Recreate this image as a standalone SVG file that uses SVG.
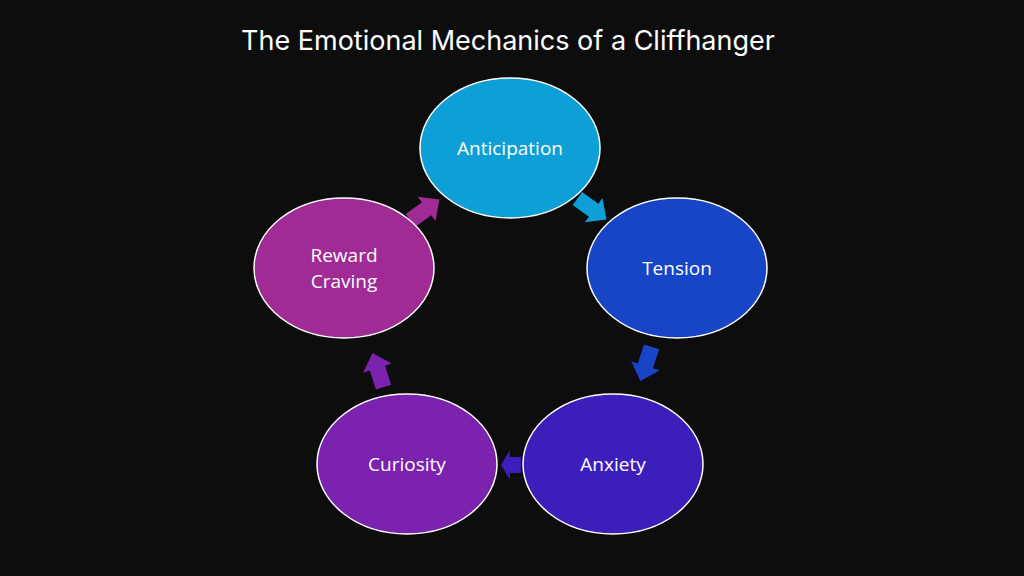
<svg xmlns="http://www.w3.org/2000/svg" width="1024" height="576" viewBox="0 0 1024 576">
<style>
.n{stroke:#fff;stroke-width:1.5}
.t{font-family:"Open Sans","Liberation Sans",sans-serif;font-size:19px;fill:#fff;text-anchor:middle}
</style>
<defs><path id="a" d="M-18,-8 L2,-8 L2,-15 L18,0 L2,15 L2,8 L-18,8 Z"/></defs>
<rect width="1024" height="576" fill="#0d0d0d"/>
<text x="508" y="50" font-family="Inter,'Liberation Sans',sans-serif" font-size="27" fill="#fff" text-anchor="middle">The Emotional Mechanics of a Cliffhanger</text>
<g id="connectors">
<use href="#a" fill="#0e9fd6" transform="translate(592,209) rotate(36)"/>
<use href="#a" fill="#1745c6" transform="translate(646,364) rotate(108) scale(1)"/>
<use href="#a" fill="#3c1fba" transform="translate(511,465) rotate(180) scale(0.55,1)"/>
<use href="#a" fill="#7b22af" transform="translate(378,370) rotate(252)"/>
<use href="#a" fill="#a02b94" transform="translate(425,210) rotate(-36)"/>
</g>
<g id="anticipation"><ellipse class="n" cx="510" cy="148" rx="90" ry="70" fill="#0e9fd6"/><text class="t" x="510" y="155">Anticipation</text></g>
<g id="tension"><ellipse class="n" cx="677" cy="268" rx="90" ry="70" fill="#1745c6"/><text class="t" x="677" y="275">Tension</text></g>
<g id="anxiety"><ellipse class="n" cx="613" cy="464" rx="90" ry="70" fill="#3c1fba"/><text class="t" x="613" y="471">Anxiety</text></g>
<g id="curiosity"><ellipse class="n" cx="407" cy="464" rx="90" ry="70" fill="#7b22af"/><text class="t" x="407" y="471">Curiosity</text></g>
<g id="reward"><ellipse class="n" cx="344" cy="268" rx="90" ry="70" fill="#a02b94"/><text class="t" x="344" y="262">Reward</text><text class="t" x="344" y="288">Craving</text></g>
</svg>
